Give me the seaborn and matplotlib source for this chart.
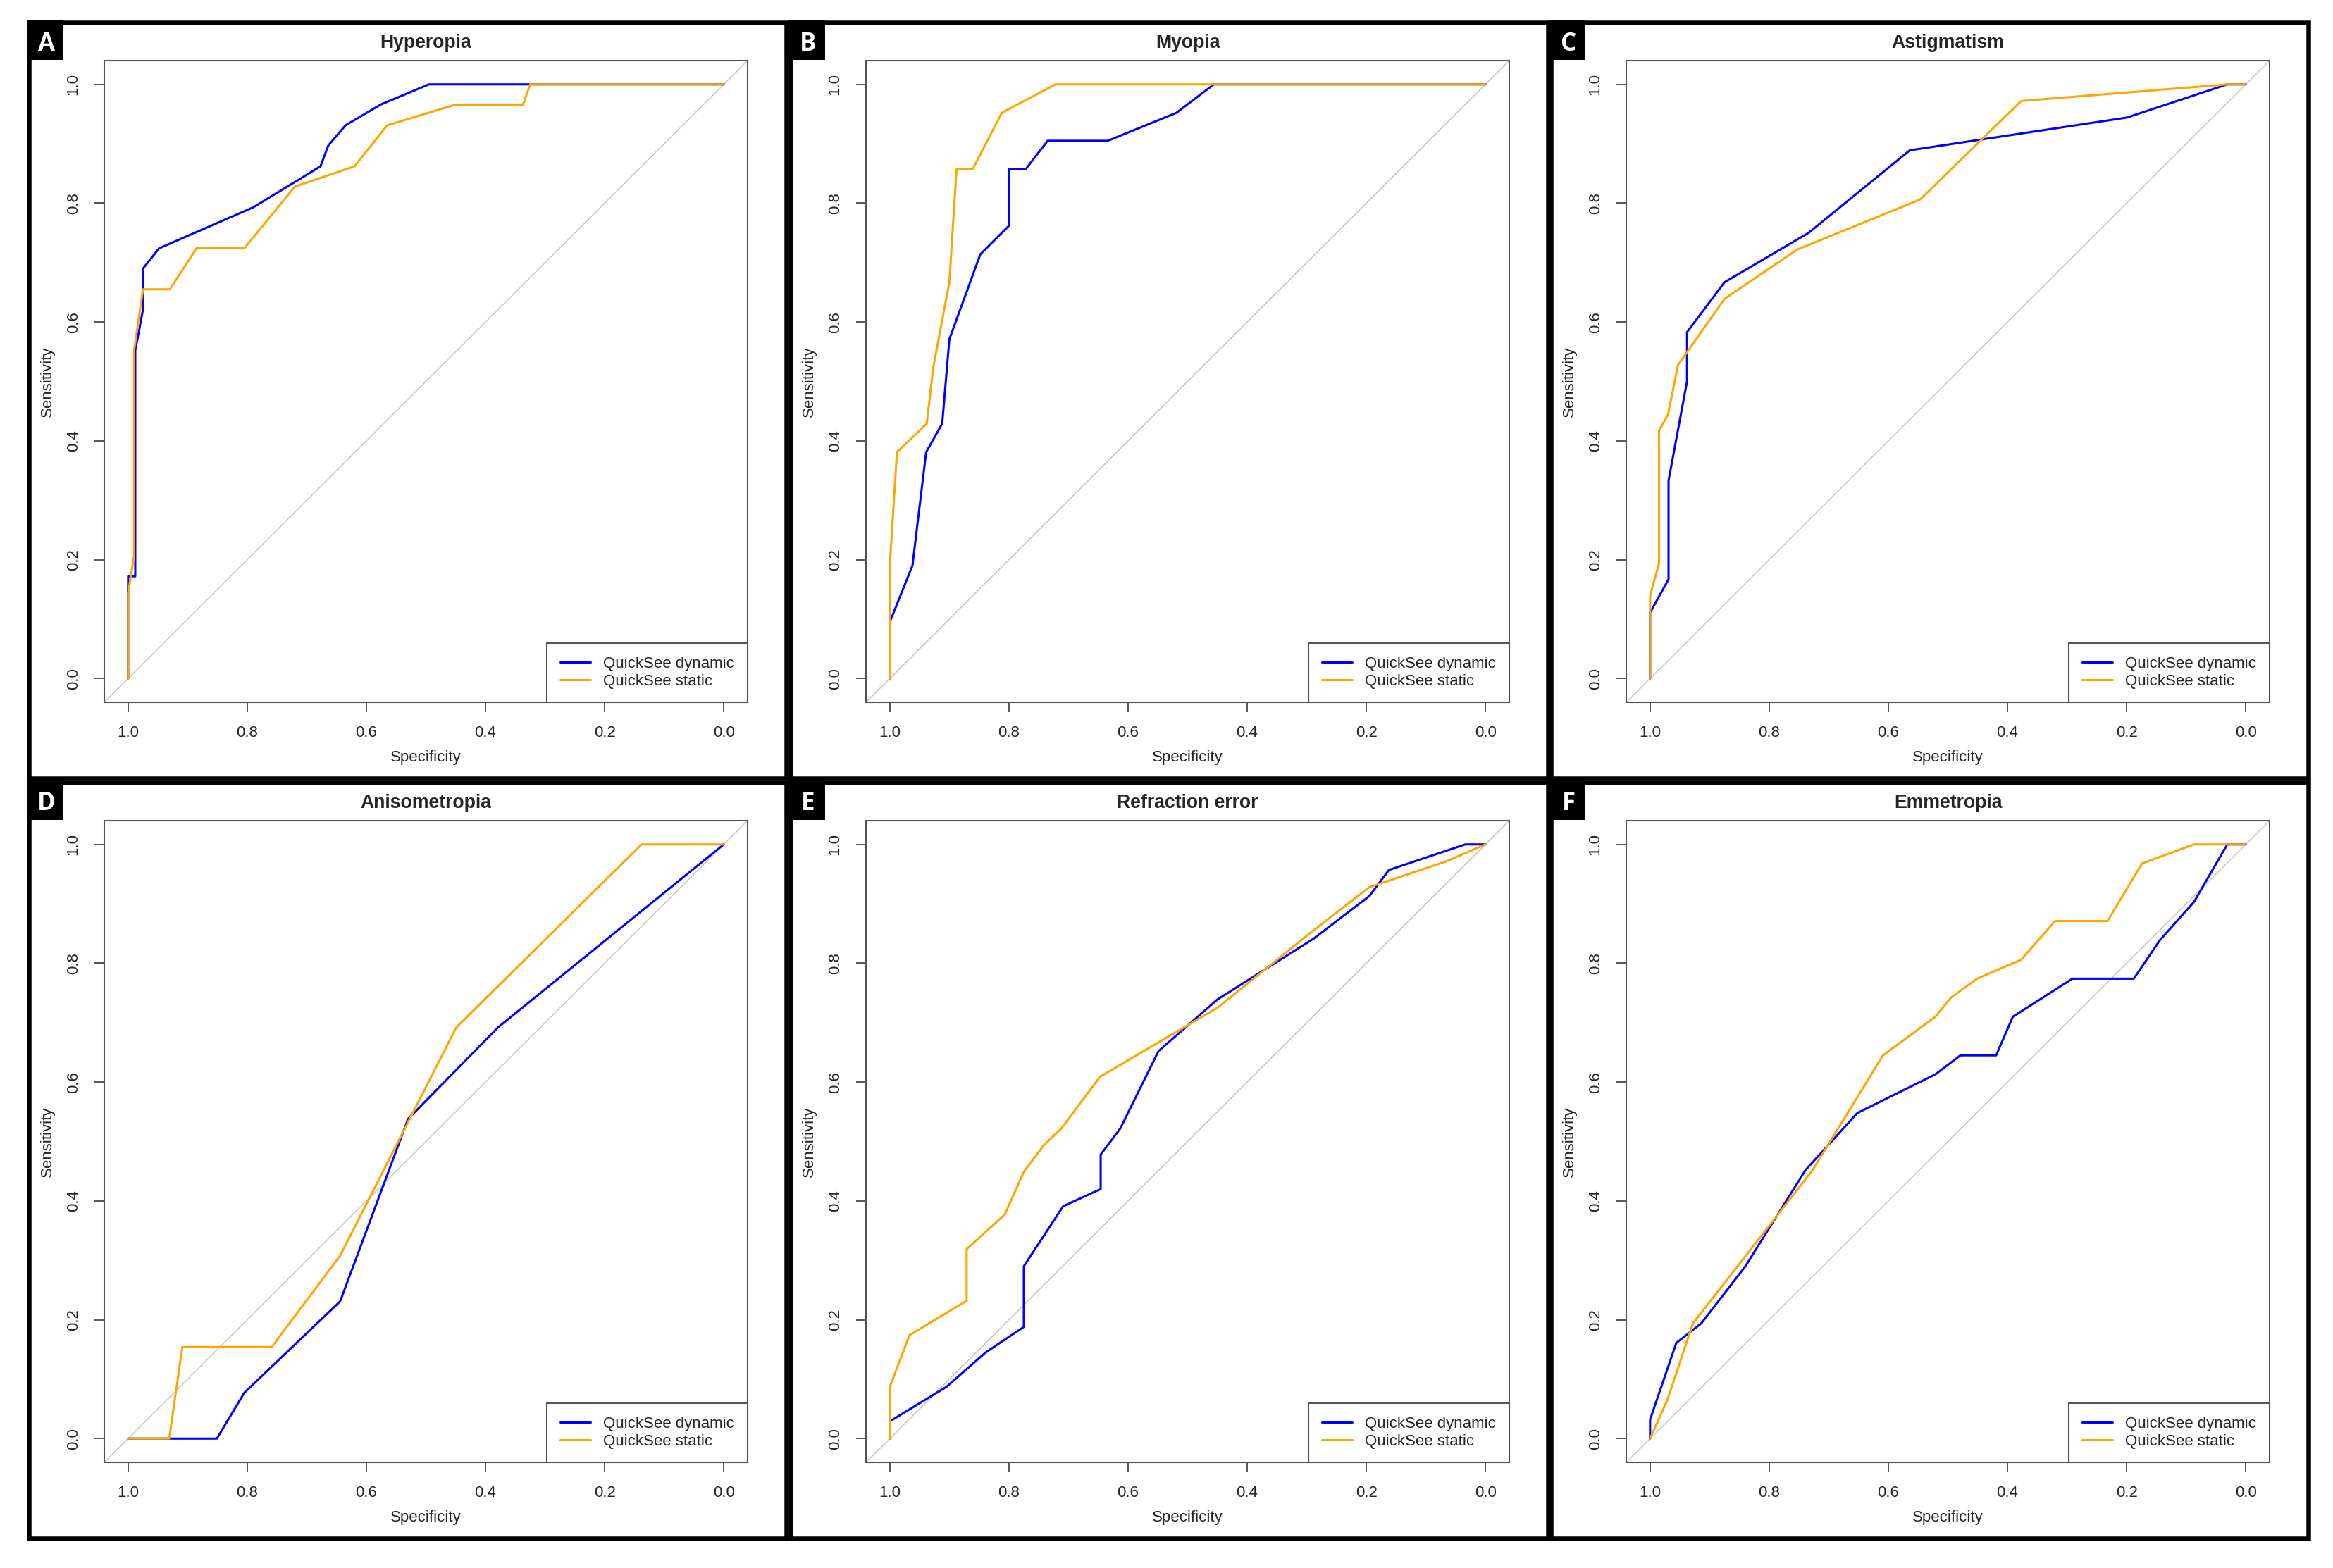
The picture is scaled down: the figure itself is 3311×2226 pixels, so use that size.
import pandas as pd
import matplotlib
matplotlib.use("Agg")
import matplotlib.pyplot as plt
from matplotlib.lines import Line2D
from matplotlib.patches import Rectangle
import seaborn as sns

# figure size in pixels (saved at dpi 100)
W, H = 3311, 2226
DPI = 100

panel_titles = ["Hyperopia", "Myopia", "Astigmatism",
                "Anisometropia", "Refraction error", "Emmetropia"]
panel_letters = ["A", "B", "C", "D", "E", "F"]
series_names = ["QuickSee dynamic", "QuickSee static"]
series_colors = ["#0000FF", "#FFA500"]
tick_values = [0.0, 0.2, 0.4, 0.6, 0.8, 1.0]

# A - Hyperopia
hyp_dyn_spec = [1.0, 1.0, 0.988, 0.988, 0.975, 0.975, 0.948, 0.79, 0.677, 0.664, 0.635, 0.576, 0.495, 0.325, 0.0]
hyp_dyn_sens = [0.0, 0.172, 0.172, 0.552, 0.621, 0.69, 0.724, 0.793, 0.862, 0.897, 0.931, 0.966, 1.0, 1.0, 1.0]
hyp_sta_spec = [1.0, 1.0, 0.99, 0.99, 0.975, 0.93, 0.885, 0.805, 0.72, 0.62, 0.565, 0.45, 0.337, 0.325, 0.0]
hyp_sta_sens = [0.0, 0.143, 0.207, 0.552, 0.655, 0.655, 0.724, 0.724, 0.828, 0.862, 0.931, 0.966, 0.966, 1.0, 1.0]

# B - Myopia
myo_dyn_spec = [1.0, 1.0, 0.962, 0.939, 0.912, 0.9, 0.848, 0.8, 0.8, 0.772, 0.735, 0.634, 0.519, 0.456, 0.0]
myo_dyn_sens = [0.0, 0.095, 0.19, 0.381, 0.429, 0.571, 0.714, 0.762, 0.857, 0.857, 0.905, 0.905, 0.952, 1.0, 1.0]
myo_sta_spec = [1.0, 1.0, 0.988, 0.938, 0.927, 0.9, 0.888, 0.861, 0.812, 0.722, 0.0]
myo_sta_sens = [0.0, 0.19, 0.381, 0.429, 0.524, 0.667, 0.857, 0.857, 0.952, 1.0, 1.0]

# C - Astigmatism
ast_dyn_spec = [1.0, 1.0, 0.969, 0.969, 0.938, 0.938, 0.875, 0.734, 0.564, 0.2, 0.031, 0.0]
ast_dyn_sens = [0.0, 0.111, 0.167, 0.333, 0.5, 0.583, 0.667, 0.75, 0.889, 0.944, 1.0, 1.0]
ast_sta_spec = [1.0, 1.0, 0.985, 0.985, 0.97, 0.953, 0.875, 0.753, 0.547, 0.377, 0.031, 0.0]
ast_sta_sens = [0.0, 0.139, 0.194, 0.417, 0.444, 0.528, 0.639, 0.722, 0.806, 0.972, 1.0, 1.0]

# D - Anisometropia
ani_dyn_spec = [1.0, 0.851, 0.805, 0.644, 0.53, 0.379, 0.0]
ani_dyn_sens = [0.0, 0.0, 0.077, 0.231, 0.538, 0.692, 1.0]
ani_sta_spec = [1.0, 0.931, 0.909, 0.759, 0.644, 0.449, 0.138, 0.0]
ani_sta_sens = [0.0, 0.0, 0.154, 0.154, 0.308, 0.692, 1.0, 1.0]

# E - Refraction error
ref_dyn_spec = [1.0, 1.0, 0.905, 0.839, 0.775, 0.775, 0.709, 0.646, 0.646, 0.613, 0.549, 0.45, 0.289, 0.195, 0.162, 0.034, 0.0]
ref_dyn_sens = [0.0, 0.029, 0.087, 0.145, 0.188, 0.29, 0.391, 0.42, 0.478, 0.522, 0.652, 0.739, 0.841, 0.913, 0.957, 1.0, 1.0]
ref_sta_spec = [1.0, 1.0, 0.967, 0.871, 0.871, 0.807, 0.775, 0.742, 0.712, 0.647, 0.45, 0.289, 0.195, 0.067, 0.0]
ref_sta_sens = [0.0, 0.087, 0.174, 0.232, 0.319, 0.377, 0.449, 0.493, 0.522, 0.609, 0.725, 0.855, 0.928, 0.971, 1.0]

# F - Emmetropia
emm_dyn_spec = [1.0, 1.0, 0.956, 0.914, 0.84, 0.739, 0.652, 0.521, 0.479, 0.419, 0.391, 0.291, 0.188, 0.144, 0.087, 0.031, 0.0]
emm_dyn_sens = [0.0, 0.032, 0.161, 0.194, 0.29, 0.452, 0.548, 0.613, 0.645, 0.645, 0.71, 0.774, 0.774, 0.839, 0.903, 1.0, 1.0]
emm_sta_spec = [1.0, 0.971, 0.928, 0.727, 0.609, 0.521, 0.495, 0.451, 0.377, 0.32, 0.232, 0.174, 0.087, 0.0]
emm_sta_sens = [0.0, 0.065, 0.194, 0.452, 0.645, 0.71, 0.742, 0.774, 0.806, 0.871, 0.871, 0.968, 1.0, 1.0]

curves = [
    (hyp_dyn_spec, hyp_dyn_sens, hyp_sta_spec, hyp_sta_sens),
    (myo_dyn_spec, myo_dyn_sens, myo_sta_spec, myo_sta_sens),
    (ast_dyn_spec, ast_dyn_sens, ast_sta_spec, ast_sta_sens),
    (ani_dyn_spec, ani_dyn_sens, ani_sta_spec, ani_sta_sens),
    (ref_dyn_spec, ref_dyn_sens, ref_sta_spec, ref_sta_sens),
    (emm_dyn_spec, emm_dyn_sens, emm_sta_spec, emm_sta_sens),
]

sns.set_style("white")
plt.rcParams['font.family'] = ['Liberation Sans', 'DejaVu Sans']

GREY = "#555555"
FS = 16

fig = plt.figure(figsize=(W / DPI, H / DPI), dpi=DPI)
fig.patch.set_facecolor("white")

# panel outer boxes (pixels)
panel_x = [38, 1119, 2198]
panel_y = [29, 1108]
panel_w = 1081
panel_h = 1079
border = 6.5


def px_rect(x, y, w, h):
    # pixel box (top-left origin) -> figure fraction [l, b, w, h]
    return [x / W, 1 - (y + h) / H, w / W, h / H]


for i in range(6):
    px = panel_x[i % 3]
    py = panel_y[i // 3]
    d_spec, d_sens, s_spec, s_sens = curves[i]

    df = pd.concat([
        pd.DataFrame({"spec": d_spec, "sens": d_sens, "test": series_names[0]}),
        pd.DataFrame({"spec": s_spec, "sens": s_sens, "test": series_names[1]}),
    ], ignore_index=True)

    ax = fig.add_axes(px_rect(px + 110, py + 57, 913, 911))
    ax.axline((1, 0), (0, 1), color="#C4C4C4", lw=1.1, zorder=1)
    sns.lineplot(data=df, x="spec", y="sens", hue="test", hue_order=series_names,
                 palette=series_colors, sort=False, estimator=None,
                 linewidth=2.2, legend=False, ax=ax, zorder=3)

    ax.set_xlim(1.04, -0.04)
    ax.set_ylim(-0.04, 1.04)
    ax.set_xticks(tick_values)
    ax.set_xticklabels([f"{v:.1f}" for v in tick_values])
    ax.set_yticks(tick_values)
    ax.set_yticklabels([f"{v:.1f}" for v in tick_values], rotation=90, va="center")
    ax.tick_params(direction="out", length=10, width=1.4, color=GREY,
                   labelsize=FS, pad=14, bottom=True, left=True)
    for sp in ax.spines.values():
        sp.set_visible(True)
        sp.set_color(GREY)
        sp.set_linewidth(1.5)

    ax.set_xlabel("Specificity", fontsize=FS, labelpad=10)
    ax.set_ylabel("Sensitivity", fontsize=FS, labelpad=11)
    ax.set_title(panel_titles[i], fontsize=19.2, fontweight="bold", pad=13)

    handles = [Line2D([], [], color=c, lw=2.2) for c in series_colors]
    leg = ax.legend(handles, series_names, loc="lower right", borderaxespad=0,
                    frameon=True, fancybox=False, edgecolor=GREY, framealpha=1,
                    fontsize=FS, handlelength=1.95, handletextpad=0.8,
                    labelspacing=0.2, borderpad=0.85)
    leg.get_frame().set_linewidth(1.5)

    # thick black panel frame
    fig.add_artist(Rectangle(((px + border / 2) / W, 1 - (py + panel_h - border / 2) / H),
                             (panel_w - border) / W, (panel_h - border) / H,
                             transform=fig.transFigure, fill=False,
                             edgecolor="black", linewidth=border * 0.72, zorder=10))
    # letter tag
    fig.add_artist(Rectangle((px / W, 1 - (py + 56) / H), 52 / W, 56 / H,
                             transform=fig.transFigure, facecolor="black",
                             edgecolor="none", zorder=11))
    fig.text((px + 28) / W, 1 - (py + 42.5) / H, panel_letters[i],
             color="white", fontsize=25, fontweight="bold",
             family=["Open Sans", "DejaVu Sans"], ha="center", va="baseline",
             zorder=12)

fig.savefig("out.png", dpi=DPI)
